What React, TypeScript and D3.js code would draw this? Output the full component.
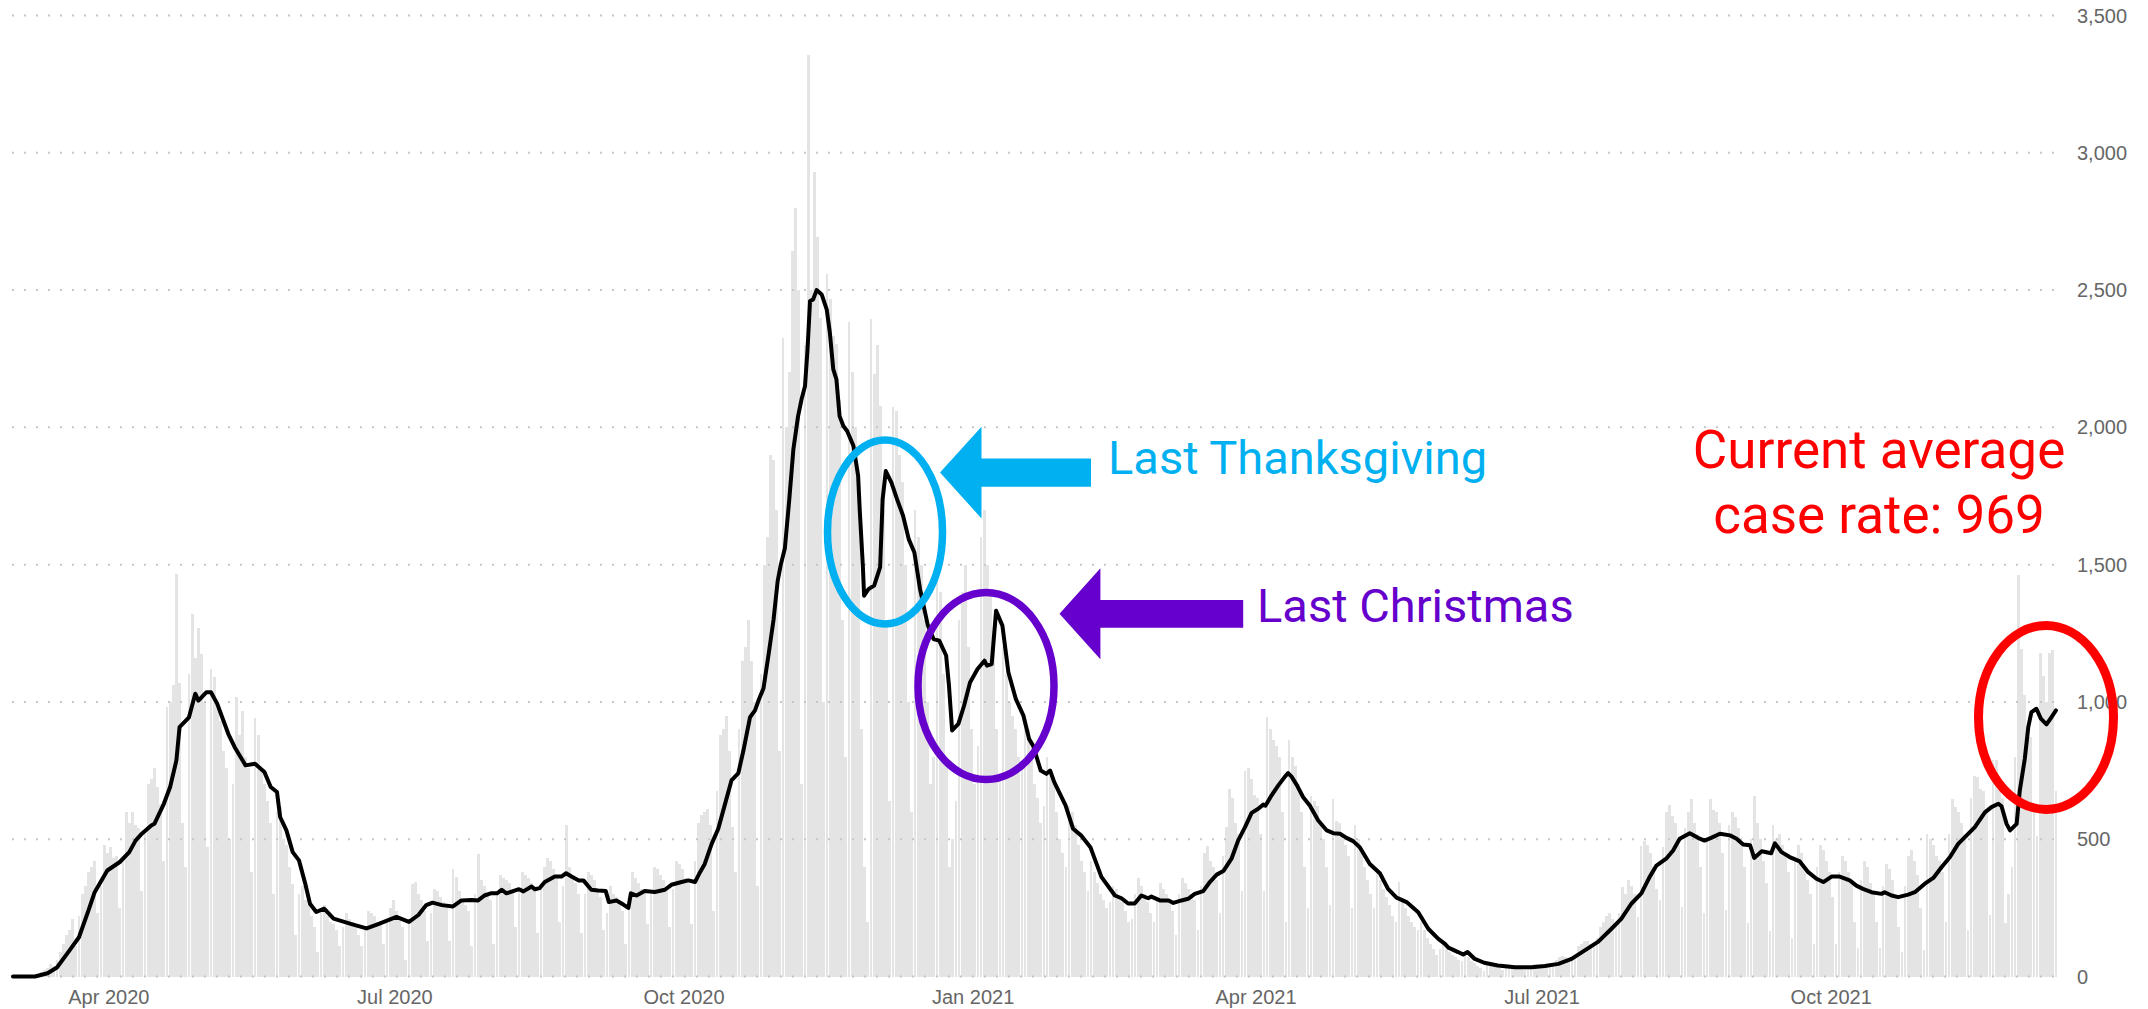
import React from 'react';
import * as d3 from 'd3';

// ---------- data ----------
const START = Date.UTC(2020, 2, 1); // first day shown (Mar 1, 2020)
const DAY_MS = 86400000;
const dayDate = (d: number) => new Date(START + d * DAY_MS);

// daily new cases, one value per day starting Mar 1 2020 (rows = weeks)
const dailyCases: number[] = [
  0, 0, 1, 0, 2, 3, 2,
  5, 8, 15, 22, 30, 45, 40,
  60, 90, 120, 150, 170, 210, 110,
  220, 300, 330, 380, 400, 420, 230,
  330, 480, 450, 470, 430, 440, 250,
  430, 600, 560, 600, 550, 540, 310,
  520, 700, 720, 760, 690, 630, 420,
  980, 1000, 1060, 1467, 1070, 560, 400,
  1100, 1320, 1160, 1270, 1175, 1000, 470,
  1120, 1090, 1000, 930, 820, 760, 500,
  700, 1018, 880, 968, 800, 760, 380,
  940, 880, 760, 700, 640, 560, 300,
  600, 617, 500, 480, 400, 337, 150,
  300, 330, 280, 260, 220, 180, 90,
  240, 260, 220, 200, 190, 170, 110,
  180, 230, 210, 200, 180, 150, 110,
  170, 240, 230, 220, 200, 200, 120,
  200, 250, 277, 240, 210, 180, 60,
  190, 337, 344, 300, 280, 240, 130,
  230, 320, 310, 290, 270, 260, 130,
  392, 362, 310, 280, 260, 240, 110,
  300, 447, 350, 330, 300, 280, 120,
  310, 370, 360, 350, 340, 310, 180,
  320, 380, 370, 360, 340, 330, 160,
  340, 400, 430, 420, 390, 370, 200,
  330, 550, 400, 370, 340, 300, 160,
  300, 380, 370, 350, 320, 290, 170,
  230, 330, 300, 290, 270, 240, 120,
  270, 380, 360, 340, 320, 300, 190,
  300, 400, 390, 370, 350, 320, 180,
  320, 420, 410, 390, 360, 340, 190,
  420, 560, 590, 600, 610, 550, 240,
  677, 878, 900, 950, 820, 544, 380,
  900, 1150, 1200, 1300, 1150, 1000, 330,
  1100, 1500, 1600, 1900, 1880, 1700, 820,
  2327, 2000, 2200, 2642, 2800, 2500, 700,
  2300, 3357, 2500, 2929, 2695, 2400, 1000,
  2560, 2469, 2331, 2305, 2100, 1300, 800,
  2382, 2200, 2000, 1800, 900, 400, 200,
  2393, 2193, 2300, 2077, 1700, 1300, 640,
  2073, 2059, 1900, 1800, 1500, 1000, 600,
  1700, 1600, 1500, 1300, 1000, 700, 800,
  1500, 1400, 1100, 800, 400, 500, 640,
  1300, 1400, 1500, 1200, 900, 700, 840,
  1600, 1700, 1500, 1400, 1200, 900, 730,
  1200, 1100, 1000, 950, 900, 800, 770,
  950, 900, 800, 700, 650, 560, 620,
  800, 750, 700, 600, 500, 450, 400,
  620, 600, 550, 480, 420, 380, 310,
  420, 380, 340, 300, 280, 250, 270,
  330, 320, 290, 270, 240, 200, 210,
  300, 360, 330, 300, 270, 230, 200,
  280, 340, 320, 300, 270, 240, 150,
  300, 360, 340, 320, 300, 280, 170,
  330, 448, 477, 420, 400, 350, 230,
  440, 544, 684, 650, 560, 520, 310,
  750, 760, 720, 660, 650, 520, 313,
  944, 900, 860, 841, 800, 600, 200,
  860, 800, 768, 700, 600, 400, 250,
  659, 640, 620, 560, 500, 400, 260,
  648, 568, 560, 520, 480, 440, 250,
  550, 500, 450, 400, 350, 300, 250,
  380, 350, 320, 290, 260, 220, 200,
  344, 280, 250, 220, 200, 180, 170,
  200, 170, 140, 120, 100, 80, 100,
  120, 100, 90, 80, 70, 60, 55,
  85, 70, 55, 50, 40, 30, 20,
  55, 45, 40, 35, 30, 25, 30,
  45, 40, 35, 35, 30, 25, 25,
  40, 45, 45, 40, 40, 35, 35,
  50, 60, 70, 75, 70, 65, 65,
  80, 110, 120, 130, 130, 120, 115,
  140, 180, 200, 220, 230, 210, 185,
  230, 325, 300, 350, 330, 300, 216,
  477, 495, 480, 450, 400, 320, 280,
  470, 598, 623, 586, 560, 480, 253,
  540, 600, 647, 560, 520, 400, 233,
  500, 647, 605, 600, 560, 450, 243,
  550, 600, 580, 540, 480, 400, 196,
  500, 659, 560, 500, 420, 340, 164,
  550, 500, 520, 480, 440, 380, 140,
  420, 480, 450, 400, 350, 300, 120,
  400, 480, 460, 420, 380, 290, 118,
  380, 440, 420, 380, 340, 200, 102,
  350, 420, 400, 340, 300, 200, 104,
  330, 410, 390, 350, 300, 180, 91,
  330, 440, 460, 420, 370, 250, 96,
  520, 500, 480, 440, 420, 380, 200,
  520, 648, 617, 600, 560, 520, 168,
  650, 732, 725, 684, 677, 600, 223,
  789, 787, 700, 650, 196, 300, 400,
  800, 1464, 1192, 1025, 900, 872, 600,
  510, 1178, 1096, 1000, 1178, 1190, 677,
];

// 7-day average, read as (day offset, value) vertices
const avgDay: number[] = [
  0, 7, 11, 14, 18, 21, 24, 26, 30, 34, 37, 39, 41, 44, 45, 48, 50, 52, 53, 55, 56, 58, 59, 61.5, 63, 65,
  68.5, 70.5, 74, 77, 80, 82, 84, 85, 87, 89, 91, 93, 94.5, 96.5, 99, 102, 108, 112.5, 116, 122, 126, 129,
  131.5, 133.5, 136.5, 140, 142.7, 146, 148, 150, 152, 154, 155.5, 157, 161, 162.4, 165, 166, 167.6, 169.2,
  172.4, 174.5, 176, 177.7, 180, 181.5, 184, 186.2, 188.6, 189.6, 192, 194.2, 195.8, 196.6, 198.4, 201,
  204.2, 207.4, 209.5, 212.7, 214.9, 217, 218.6, 220.1, 222.3, 224.4, 226, 228.6, 230.8, 232.4, 234.5,
  236.1, 237.2, 238.8, 240.5, 242, 243.3, 244.3, 245.6, 247, 248.3, 249.8, 250.9, 252, 252.8, 253.6, 254.6,
  255.7, 257.3, 258.9, 259.9, 261, 262, 263, 264.2, 265.4, 267.4, 268.9, 269.4, 270.4, 270.8, 272.2, 274,
  275.9, 276.7, 277.7, 279.5, 281.3, 283.2, 285, 286.8, 288.6, 291.1, 292.9, 294.7, 296.9, 297.8, 298.8,
  300.8, 302.6, 304.5, 306.9, 309.1, 309.9, 311.4, 312.8, 314.8, 316.7, 319.1, 321.5, 323.3, 324.6, 327,
  328.8, 330, 331.3, 334.9, 337.3, 339.8, 342.8, 346.3, 350.6, 352.7, 354.8, 356.9, 359, 361.2, 362.2,
  364.9, 367.7, 369.2, 371.8, 373.9, 376, 378.7, 380.8, 383, 385.1, 387.7, 389.8, 392, 394.1, 396.2, 397.8,
  398.5, 400.4, 402.6, 404.7, 405.7, 406.8, 408.4, 410.5, 412.6, 415.3, 418, 420.1, 422.2, 424.3, 426.4,
  428.5, 431.7, 434.9, 437.5, 440.2, 443.4, 447.1, 450.3, 453.5, 455.6, 456.7, 459.8, 461.4, 462.8, 465.1,
  468.1, 472.4, 477.9, 483.2, 487.4, 491.7, 495.9, 500.1, 504.4, 508.6, 511.7, 514.9, 518.1, 520.7, 522.9,
  526, 528.2, 530.3, 533.5, 536.1, 538.2, 540.3, 543.1, 546.3, 548.4, 550.5, 552.7, 554, 556.4, 559.4,
  560.6, 562.7, 565.3, 568.5, 571.2, 573.8, 576, 578.6, 581.2, 584.4, 586.5, 588.6, 591.3, 594.5, 595.5,
  597.7, 599.8, 603, 605.1, 608.3, 611, 613.6, 616.3, 618.9, 621.6, 624.2, 627.4, 629.5, 631.7, 632.7,
  634.3, 635.4, 637.5, 638.5, 640.1, 641.2, 642.2, 643.8, 645.2, 647, 648.6, 650,
];
const avgCases: number[] = [
  0, 0, 12, 33, 95, 143, 240, 307, 386, 417, 453, 495, 520, 550, 556, 629, 690, 787, 908, 932, 944, 1030, 1005, 1035, 1035, 993,
  884, 836, 769, 775, 745, 690, 672, 581, 532, 453, 423, 338, 265, 235, 247, 211, 190, 175, 190, 217, 199, 224,
  260, 269, 260, 255, 277, 279, 277, 295, 303, 303, 316, 303, 318, 310, 328, 318, 322, 344,
  364, 364, 376, 364, 350, 350, 316, 313, 311, 271, 277, 262, 250, 303, 295, 311,
  308, 316, 334, 344, 350, 344, 380, 410, 483, 538, 605, 714, 741, 823, 944,
  969, 1005, 1050, 1180, 1300, 1440, 1500, 1560, 1738, 1920, 2041, 2102, 2150, 2284, 2460, 2466,
  2500, 2484, 2430, 2345, 2211, 2175, 2041, 2005, 1987, 1933, 1824, 1702, 1496, 1387, 1411, 1424,
  1491, 1738, 1841, 1799, 1738, 1678, 1593, 1544, 1411, 1278, 1229, 1223, 1169, 1060, 896,
  920, 986, 1071, 1120, 1150, 1132, 1138, 1332, 1278, 1108, 1010, 950, 865, 840, 750,
  738, 750, 708, 623, 538, 514, 471, 363, 295, 285, 266, 266, 295, 285, 291,
  277, 277, 268, 277, 283, 301, 311, 344, 371, 384, 429, 495, 544, 596, 611, 626,
  622, 659, 696, 728, 741, 728, 699, 653, 623, 568, 532, 522, 520, 505, 493,
  471, 410, 376, 319, 287, 271, 234, 174, 137, 119, 105, 89, 80, 89, 64,
  50, 40, 34, 34, 38, 46, 64, 95, 127, 174, 210, 265, 303, 362, 404,
  429, 459, 502, 522, 505, 495, 505, 520, 514, 502, 481, 478, 432, 456, 449,
  485, 453, 435, 419, 380, 356, 344, 364, 364, 350, 331, 319, 307, 301, 307,
  295, 289, 298, 307, 338, 359, 398, 435, 483, 514, 544, 598, 617, 629, 620,
  556, 532, 556, 677, 793, 908, 963, 975, 939, 918, 945, 969,
];

const yTicks: number[] = [0, 500, 1000, 1500, 2000, 2500, 3000, 3500];
const monthLabels: string[] = ['Apr 2020', 'Jul 2020', 'Oct 2020', 'Jan 2021', 'Apr 2021', 'Jul 2021', 'Oct 2021'];
const monthDates: Date[] = [
  new Date(Date.UTC(2020, 3, 1)), new Date(Date.UTC(2020, 6, 1)), new Date(Date.UTC(2020, 9, 1)),
  new Date(Date.UTC(2021, 0, 1)), new Date(Date.UTC(2021, 3, 1)), new Date(Date.UTC(2021, 6, 1)),
  new Date(Date.UTC(2021, 9, 1)),
];

// ---------- layout ----------
const W = 2148;
const H = 1009;
const X0 = 11.4;
const PX_PER_DAY = 3.143;
const N_DAYS = 652;

const AXIS_FONT = '"Liberation Sans", Arial, sans-serif';
const NOTE_FONT = 'Roboto, "Noto Sans", sans-serif';

export default function App() {
  const x = d3.scaleUtc().domain([dayDate(0), dayDate(N_DAYS)]).range([X0, X0 + N_DAYS * PX_PER_DAY]);
  const y = d3.scaleLinear().domain([0, 3500]).range([976.5, 15.5]);
  const barW = PX_PER_DAY - 0.35;

  const linePts: [number, number][] = avgDay.map((d, i) => [d, avgCases[i]]);
  const lineGen = d3
    .line<[number, number]>()
    .x((p) => (x(dayDate(p[0])) as number) + PX_PER_DAY / 2)
    .y((p) => y(p[1]));

  const arrow = (tipX: number, tipY: number, headX: number, headHalf: number, endX: number, shaftHalf: number) =>
    `M${tipX},${tipY} L${headX},${tipY - headHalf} L${headX},${tipY - shaftHalf} L${endX},${tipY - shaftHalf} L${endX},${tipY + shaftHalf} L${headX},${tipY + shaftHalf} L${headX},${tipY + headHalf} Z`;

  return (
    <svg
      width={W}
      height={H}
      style={{ position: 'absolute', left: 0, top: 0, background: '#fff' }}
      xmlns="http://www.w3.org/2000/svg"
    >
      <rect x={0} y={0} width={W} height={H} fill="#ffffff" />
      {/* daily bars */}
      <g fill="#e4e4e4" shapeRendering="crispEdges">
        {dailyCases.map((v, i) => (
          <rect key={i} x={(x(dayDate(i)) as number) + 0.2} y={y(v)} width={barW} height={y(0) - y(v)} />
        ))}
      </g>
      {/* dotted gridlines */}
      <g stroke="#c6c6c6" strokeWidth={2} strokeDasharray="2 10">
        {yTicks.map((t) => (
          <line key={t} x1={12} x2={2058} y1={y(t)} y2={y(t)} />
        ))}
      </g>
      {/* y labels */}
      <g fontFamily={AXIS_FONT} fontSize={20} fill="#666">
        {yTicks.map((t) => (
          <text key={t} x={2077} y={y(t) + 7}>
            {d3.format(',')(t)}
          </text>
        ))}
      </g>
      {/* x labels */}
      <g fontFamily={AXIS_FONT} fontSize={20} fill="#666" textAnchor="middle">
        {monthLabels.map((m, i) => (
          <text key={m} x={x(monthDates[i])} y={1004}>
            {m}
          </text>
        ))}
      </g>
      {/* 7-day average line */}
      <path d={lineGen(linePts) || ''} fill="none" stroke="#000" strokeWidth={4} strokeLinejoin="round" strokeLinecap="round" />

      {/* Thanksgiving annotation */}
      <ellipse cx={885} cy={532} rx={57.5} ry={92} fill="none" stroke="#00b0f0" strokeWidth={7.5} />
      <path d={arrow(940, 472.6, 981.5, 45.8, 1091, 14.1)} fill="#00b0f0" />
      <text x={1108} y={474} fontFamily={NOTE_FONT} fontSize={47} fill="#00b0f0">
        Last Thanksgiving
      </text>

      {/* Christmas annotation */}
      <ellipse cx={986} cy={686} rx={68} ry={93.5} fill="none" stroke="#6600cc" strokeWidth={7.5} />
      <path d={arrow(1059.5, 613.8, 1100.4, 45.5, 1243.2, 13.9)} fill="#6600cc" />
      <text x={1257} y={622} fontFamily={NOTE_FONT} fontSize={47} fill="#6600cc">
        Last Christmas
      </text>

      {/* current annotation */}
      <ellipse cx={2046} cy={717.4} rx={67.5} ry={92} fill="none" stroke="#ff0000" strokeWidth={9} />
      <text x={1879} y={468} fontFamily={NOTE_FONT} fontSize={53} fill="#ff0000" textAnchor="middle">
        Current average
      </text>
      <text x={1879} y={533} fontFamily={NOTE_FONT} fontSize={53} fill="#ff0000" textAnchor="middle">
        case rate: 969
      </text>
    </svg>
  );
}
